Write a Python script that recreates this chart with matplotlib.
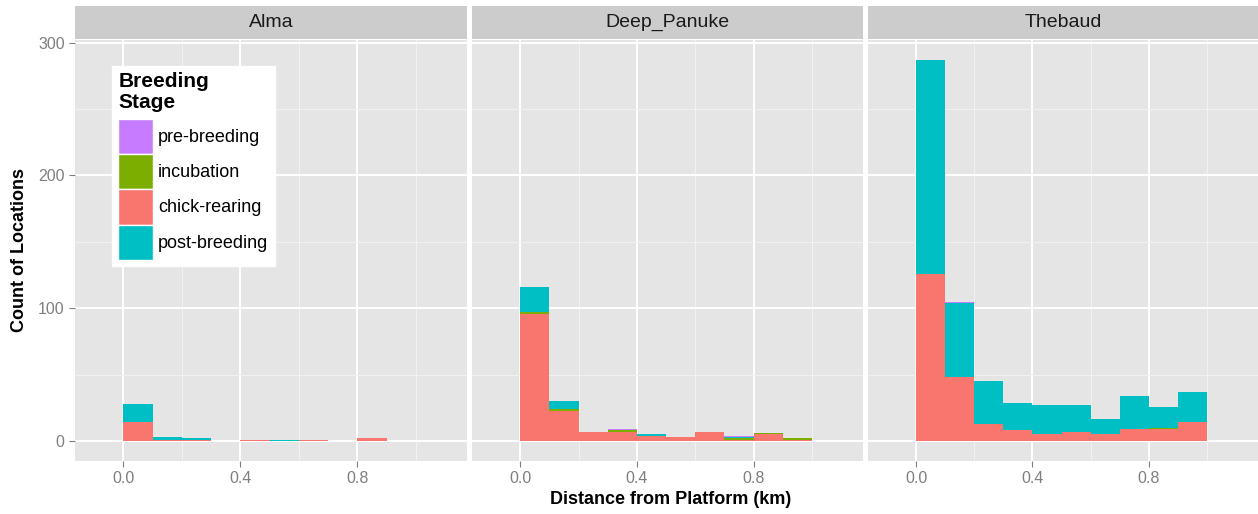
import numpy as np
import matplotlib.pyplot as plt
from matplotlib.patches import Patch
from matplotlib.ticker import MultipleLocator

plt.rcParams['font.family'] = ['Liberation Sans', 'DejaVu Sans']

# Histogram bins (km), binwidth 0.1
bin_left = np.arange(0, 1.0, 0.1)

platforms = ["Alma", "Deep_Panuke", "Thebaud"]
stages = ["pre-breeding", "incubation", "chick-rearing", "post-breeding"]
colors = {"pre-breeding": "#C77CFF", "incubation": "#7CAE00",
          "chick-rearing": "#F8766D", "post-breeding": "#00BFC4"}

# counts per bin, per platform and stage
alma_chick = [14, 1, 1, 0, 1, 0, 1, 0, 2, 0]
alma_inc = [0, 0, 0, 0, 0, 0, 0, 0, 0, 0]
alma_post = [14, 2, 1, 0, 0, 1, 0, 0, 0, 0]
alma_pre = [0, 0, 0, 0, 0, 0, 0, 0, 0, 0]

deep_chick = [96, 23, 7, 7, 4, 3, 7, 1, 5, 1]
deep_inc = [1, 1, 0, 1, 0, 0, 0, 1, 1, 1]
deep_post = [19, 6, 0, 0, 1, 0, 0, 1, 0, 0]
deep_pre = [0, 0, 0, 1, 0, 0, 0, 1, 0, 0]

theb_chick = [126, 48, 13, 8, 5, 7, 5, 9, 9, 14]
theb_inc = [0, 0, 0, 0, 0, 0, 0, 0, 1, 0]
theb_post = [161, 56, 32, 21, 22, 20, 12, 25, 16, 23]
theb_pre = [0, 1, 0, 0, 0, 0, 0, 0, 0, 0]

data = {
    "Alma": [alma_chick, alma_inc, alma_post, alma_pre],
    "Deep_Panuke": [deep_chick, deep_inc, deep_post, deep_pre],
    "Thebaud": [theb_chick, theb_inc, theb_post, theb_pre],
}
stack_order = ["chick-rearing", "incubation", "post-breeding", "pre-breeding"]

W, H = 1258, 514
fig = plt.figure(figsize=(W / 100, H / 100), dpi=100)

panel_x = [(75, 467), (472, 863), (868, 1258)]
top, bottom = 40, 461
strip_top = 6

axes = []
for i, name in enumerate(platforms):
    x0, x1 = panel_x[i]
    ax = fig.add_axes([x0 / W, (H - bottom) / H, (x1 - x0) / W, (bottom - top) / H])
    ax.set_facecolor("#E5E5E5")
    for s in ax.spines.values():
        s.set_visible(False)
    ax.set_xlim(-0.165, 1.175)
    ax.set_ylim(-15, 302)
    ax.xaxis.set_major_locator(MultipleLocator(0.4))
    ax.xaxis.set_minor_locator(MultipleLocator(0.2))
    ax.yaxis.set_major_locator(MultipleLocator(100))
    ax.yaxis.set_minor_locator(MultipleLocator(50))
    ax.grid(which="major", color="white", lw=1.4)
    ax.grid(which="minor", color="#F2F2F2", lw=0.7)
    ax.set_axisbelow(True)
    ax.tick_params(which="minor", length=0)
    ax.tick_params(which="major", colors="#7F7F7F", labelsize=11.5, length=4)
    ax.set_xticks([0, 0.4, 0.8])
    ax.set_xticklabels(["0.0", "0.4", "0.8"])
    if i > 0:
        ax.tick_params(axis="y", left=False, labelleft=False)

    bottoms = np.zeros(len(bin_left))
    series = dict(zip(stack_order, data[name]))
    for st in stack_order:
        vals = np.array(series[st])
        ax.bar(bin_left, vals, width=0.1, bottom=bottoms, align="edge",
               color=colors[st], linewidth=0)
        bottoms += vals

    # facet strip
    sax = fig.add_axes([x0 / W, (H - (top - 1)) / H, (x1 - x0) / W, (top - 1 - strip_top) / H])
    sax.set_facecolor("#CCCCCC")
    sax.set_xticks([])
    sax.set_yticks([])
    for s in sax.spines.values():
        s.set_visible(False)
    sax.text(0.5, 0.5, name, ha="center", va="center", fontsize=14, color="#1A1A1A",
             transform=sax.transAxes)
    axes.append(ax)

fig.text(671 / W, 1 - 500 / H, "Distance from Platform (km)", ha="center", va="center",
         fontsize=13, fontweight="bold")
fig.text(20 / W, 1 - 250 / H, "Count of Locations", ha="center", va="center",
         rotation=90, fontsize=13, fontweight="bold")

handles = [Patch(facecolor=colors[s], edgecolor="white", linewidth=1) for s in stages]
leg = axes[0].legend(handles, stages, title="Breeding\nStage", loc="upper left",
                     bbox_to_anchor=(112 / W, 1 - 66 / H), bbox_transform=fig.transFigure,
                     fontsize=13, title_fontproperties={"weight": "bold", "size": 15},
                     handlelength=1.9, handleheight=2.63, labelspacing=0.0,
                     handletextpad=0.3, borderpad=0.35, borderaxespad=0,
                     frameon=True, fancybox=False, framealpha=1, alignment="left")
leg.get_frame().set_edgecolor("white")
leg.get_frame().set_facecolor("white")
leg.get_title().set_linespacing(1.1)
leg._legend_box.sep = 5

fig.savefig("out.png", dpi=100)
